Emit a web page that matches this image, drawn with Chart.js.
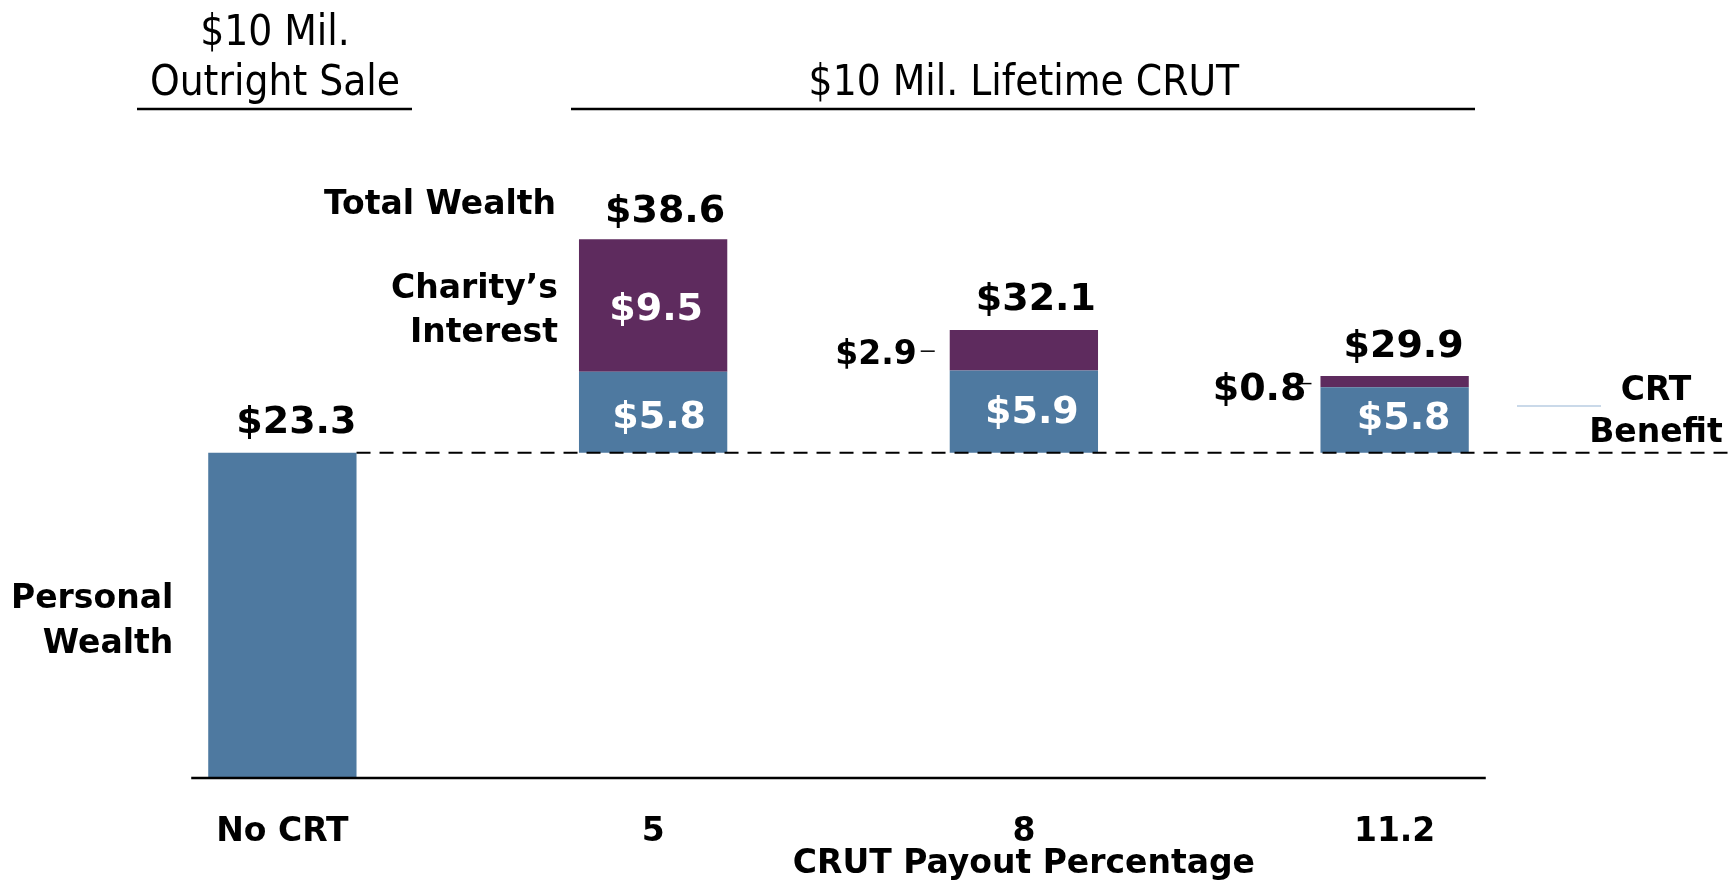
<!DOCTYPE html>
<html>
<head>
<meta charset="utf-8">
<script src="https://cdn.jsdelivr.net/npm/chart.js@4.4.1/dist/chart.umd.min.js"></script>
<style>
  html, body { margin: 0; padding: 0; background: #fff; }
  #wrap { width: 1729px; height: 880px; }
</style>
</head>
<body>
<div id="wrap"><canvas id="crutChart"></canvas></div>
<script>
// values ($ millions)
const categories = ["No CRT", "5", "8", "11.2"];
const personalWealth = [23.3, 23.3, 23.3, 23.3];
const crtBenefit = [null, 5.8, 5.9, 4.7];
const charityInterest = [null, 9.5, 2.9, 0.8];
const totalLabels = ["$23.3", "$38.6", "$32.1", "$29.9"];
const benefitLabels = [null, "$5.8", "$5.9", "$5.8"];
const charityLabels = [null, "$9.5", "$2.9", "$0.8"];

const BLUE = "#4E79A0";
const PURPLE = "#5E2B5E";
const BOLD = "bold 33px 'DejaVu Sans'";
const BIG = "bold 38px 'DejaVu Sans'";
const HEAD = "42px 'DejaVu Sans Condensed', 'DejaVu Sans'";

function txt(ctx, s, x, y, font, color, align) {
    ctx.font = font;
    ctx.fillStyle = color || "#000";
    ctx.textAlign = align || "center";
    ctx.textBaseline = "middle";
    ctx.fillText(s, x, y + 6);
}

function hline(ctx, x1, x2, y, w, color, dash) {
    ctx.save();
    ctx.beginPath();
    ctx.lineWidth = w;
    ctx.strokeStyle = color;
    ctx.setLineDash(dash || []);
    ctx.moveTo(x1, y);
    ctx.lineTo(x2, y);
    ctx.stroke();
    ctx.restore();
}

const annotate = {
    id: "annotate",
    afterDatasetsDraw(chart) {
        const { ctx, scales: { y } } = chart;
        const base = chart.getDatasetMeta(0).data;
        const blue = chart.getDatasetMeta(1).data;
        const purple = chart.getDatasetMeta(2).data;
        const half = base[0].width / 2;
        const mid = (el) => (el.y + el.base) / 2;

        // axis line and the personal wealth reference line
        hline(ctx, base[0].x - half - 17, base[3].x + half + 17, y.getPixelForValue(0), 2.5, "#000");
        hline(ctx, base[0].x + half, chart.width, y.getPixelForValue(personalWealth[0]), 2, "#000", [14, 9]);

        // headers
        txt(ctx, "$10 Mil.", 275, 28, HEAD);
        txt(ctx, "Outright Sale", 275, 78, HEAD);
        hline(ctx, 137, 412, 109, 2.5, "#000");
        const crutMid = (blue[1].x + blue[3].x) / 2;
        txt(ctx, "$10 Mil. Lifetime CRUT", crutMid, 78, HEAD);
        hline(ctx, 571, 1475, 109, 2.5, "#000");

        // totals above bars
        txt(ctx, totalLabels[0], base[0].x + 14, base[0].y - 36, BIG);
        txt(ctx, totalLabels[1], purple[1].x + 12, purple[1].y - 33, BIG);
        txt(ctx, totalLabels[2], purple[2].x + 12, purple[2].y - 36, BIG);
        txt(ctx, totalLabels[3], purple[3].x + 9, purple[3].y - 35, BIG);

        // segment values
        txt(ctx, charityLabels[1], purple[1].x + 3, mid(purple[1]) - 1, BIG, "#fff");
        txt(ctx, benefitLabels[1], blue[1].x + 6, mid(blue[1]), BIG, "#fff");
        txt(ctx, benefitLabels[2], blue[2].x + 8, mid(blue[2]) - 4, BIG, "#fff");
        txt(ctx, benefitLabels[3], blue[3].x + 9, mid(blue[3]) - 7, BIG, "#fff");

        const left2 = purple[2].x - half, left3 = purple[3].x - half;
        txt(ctx, charityLabels[2], left2 - 33, mid(purple[2]) - 1, BOLD, "#000", "right");
        hline(ctx, left2 - 29, left2 - 15, mid(purple[2]) + 1, 1.5, "#000");
        txt(ctx, charityLabels[3], left3 - 14, mid(purple[3]) + 3, BIG, "#000", "right");
        hline(ctx, left3 - 20, left3 - 9, mid(purple[3]) + 2, 1.5, "#000");

        // side labels
        const left1 = purple[1].x - half;
        txt(ctx, "Total Wealth", left1 - 23, purple[1].y - 40, BOLD, "#000", "right");
        txt(ctx, "Charity\u2019s", left1 - 21, mid(purple[1]) - 22, BOLD, "#000", "right");
        txt(ctx, "Interest", left1 - 21, mid(purple[1]) + 22, BOLD, "#000", "right");
        txt(ctx, "Personal", base[0].x - half - 35, 593, BOLD, "#000", "right");
        txt(ctx, "Wealth", base[0].x - half - 35, 638, BOLD, "#000", "right");
        txt(ctx, "CRT", 1656, 385, BOLD);
        txt(ctx, "Benefit", 1656, 427, BOLD);
        hline(ctx, 1517, 1601, 406, 1.5, "#B9CDE2");

        // axis title
        txt(ctx, "CRUT Payout Percentage", crutMid, 858, BOLD);
    }
};

new Chart(document.getElementById("crutChart"), {
    type: "bar",
    data: {
        labels: categories,
        datasets: [
            {
                label: "Personal Wealth",
                data: personalWealth,
                backgroundColor: [BLUE, "rgba(0,0,0,0)", "rgba(0,0,0,0)", "rgba(0,0,0,0)"],
            },
            { label: "CRT Benefit", data: crtBenefit, backgroundColor: BLUE },
            { label: "Charity's Interest", data: charityInterest, backgroundColor: PURPLE },
        ],
    },
    options: {
        responsive: true,
        maintainAspectRatio: false,
        animation: false,
        barPercentage: 0.4,
        categoryPercentage: 1,
        layout: { padding: { top: 108, left: 97, right: 149, bottom: -6 } },
        plugins: {
            legend: { display: false },
            tooltip: { enabled: false },
        },
        scales: {
            x: {
                stacked: true,
                grid: { display: false, drawTicks: false },
                border: { display: false },
                ticks: {
                    color: "#000",
                    padding: 0,
                    font: { family: "DejaVu Sans", size: 33, weight: "bold", lineHeight: 108 / 33 },
                },
            },
            y: {
                stacked: true,
                display: false,
                min: 0,
                max: 48,
            },
        },
    },
    plugins: [annotate],
});
</script>
</body>
</html>
